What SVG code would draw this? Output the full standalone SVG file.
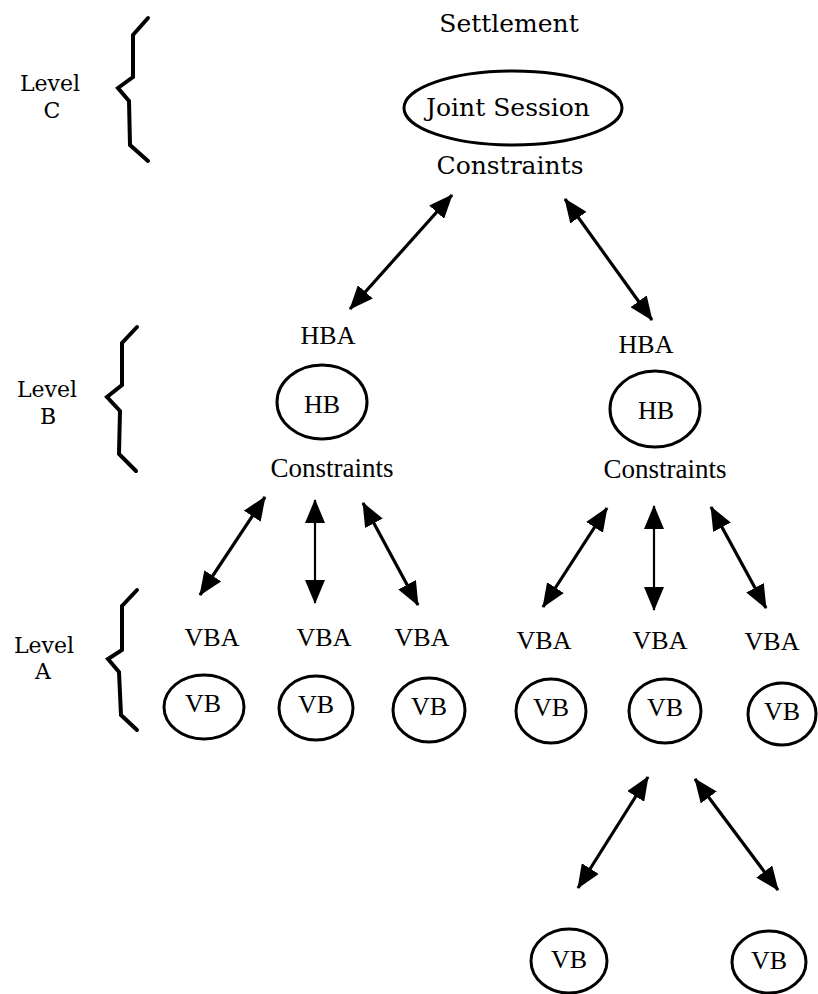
<svg xmlns="http://www.w3.org/2000/svg" width="818" height="994" viewBox="0 0 818 994">
  <style>
    .bg { fill: #ffffff; }
    .shape { fill: none; stroke: #000; stroke-width: 3; }
    .brace { fill: none; stroke: #000; stroke-width: 4; stroke-linejoin: miter; stroke-linecap: round; }
    .lvl { font-family: "DejaVu Serif", serif; font-size: 22px; fill: #000; text-anchor: middle; }
    .top { font-family: "DejaVu Serif", serif; font-size: 25px; fill: #000; text-anchor: middle; }
    .lab { font-family: "Liberation Serif", serif; font-size: 26px; fill: #000; text-anchor: middle; }
    .con { font-family: "Liberation Serif", serif; font-size: 27px; fill: #000; text-anchor: middle; }
    .link { stroke: #000; stroke-width: 3.2; fill: none; marker-start: url(#head); marker-end: url(#head); }
    .thin { stroke-width: 2.2; }
  </style>
  <defs>
    <marker id="head" viewBox="0 0 24 20" refX="23" refY="10" markerWidth="24" markerHeight="20" markerUnits="userSpaceOnUse" orient="auto-start-reverse">
      <path d="M0,0 L24,10 L0,20 z" fill="#000"/>
    </marker>
  </defs>
  <rect class="bg" x="0" y="0" width="818" height="994"/>

  <!-- level labels and braces -->
  <g id="level-c">
    <text class="lvl" x="50" y="91">Level</text>
    <text class="lvl" x="52" y="118">C</text>
    <polyline class="brace" points="148,18 133,35 133,77 118,88 129,101 130,145 148,161"/>
  </g>
  <g id="level-b">
    <text class="lvl" x="47" y="397">Level</text>
    <text class="lvl" x="48" y="424">B</text>
    <polyline class="brace" points="137,327 122,343 122,385 107,397 120,411 119,454 136,471"/>
  </g>
  <g id="level-a">
    <text class="lvl" x="44" y="653">Level</text>
    <text class="lvl" x="43" y="679">A</text>
    <polyline class="brace" points="137,590 122,606 122,650 108,659 119,672 121,715 137,730"/>
  </g>

  <!-- level C: joint session -->
  <g id="joint-session">
    <text class="top" x="509" y="32">Settlement</text>
    <ellipse class="shape" cx="513" cy="108" rx="109" ry="37"/>
    <text class="top" x="508" y="116">Joint Session</text>
    <text class="top" x="510" y="174">Constraints</text>
  </g>

  <!-- level B: house boards -->
  <g id="hb-left">
    <text class="lab" x="328" y="344">HBA</text>
    <ellipse class="shape" cx="322" cy="402" rx="45" ry="37"/>
    <text class="lab" x="322" y="413">HB</text>
    <text class="con" x="332" y="477">Constraints</text>
  </g>
  <g id="hb-right">
    <text class="lab" x="646" y="353">HBA</text>
    <ellipse class="shape" cx="655" cy="409" rx="45" ry="38"/>
    <text class="lab" x="656" y="419">HB</text>
    <text class="con" x="665" y="478">Constraints</text>
  </g>

  <!-- level A: village boards -->
  <g id="vb-1">
    <text class="lab" x="212" y="646">VBA</text>
    <ellipse class="shape" cx="204" cy="707" rx="40" ry="32"/>
    <text class="lab" x="203" y="712">VB</text>
  </g>
  <g id="vb-2">
    <text class="lab" x="324" y="646">VBA</text>
    <ellipse class="shape" cx="316" cy="708" rx="37" ry="32"/>
    <text class="lab" x="316" y="713">VB</text>
  </g>
  <g id="vb-3">
    <text class="lab" x="422" y="646">VBA</text>
    <ellipse class="shape" cx="429" cy="710" rx="36" ry="32"/>
    <text class="lab" x="429" y="715">VB</text>
  </g>
  <g id="vb-4">
    <text class="lab" x="544" y="649">VBA</text>
    <ellipse class="shape" cx="551" cy="711" rx="35" ry="32"/>
    <text class="lab" x="551" y="716">VB</text>
  </g>
  <g id="vb-5">
    <text class="lab" x="660" y="649">VBA</text>
    <ellipse class="shape" cx="665" cy="711" rx="36" ry="32"/>
    <text class="lab" x="665" y="716">VB</text>
  </g>
  <g id="vb-6">
    <text class="lab" x="772" y="650">VBA</text>
    <ellipse class="shape" cx="782" cy="714" rx="34" ry="31"/>
    <text class="lab" x="782" y="720">VB</text>
  </g>
  <g id="vb-7">
    <ellipse class="shape" cx="569" cy="961" rx="38" ry="32"/>
    <text class="lab" x="569" y="968">VB</text>
  </g>
  <g id="vb-8">
    <ellipse class="shape" cx="769" cy="962" rx="37" ry="31"/>
    <text class="lab" x="769" y="969">VB</text>
  </g>

  <!-- two-way links between levels -->
  <g id="connectors">
    <line class="link" x1="452" y1="195" x2="350" y2="309"/>
    <line class="link" x1="565" y1="199" x2="652" y2="320"/>
    <line class="link" x1="265" y1="497" x2="200" y2="595"/>
    <line class="link thin" x1="315" y1="500" x2="315" y2="603"/>
    <line class="link" x1="363" y1="503" x2="418" y2="605"/>
    <line class="link" x1="607" y1="508" x2="543" y2="607"/>
    <line class="link thin" x1="654" y1="506" x2="654" y2="610"/>
    <line class="link" x1="711" y1="507" x2="766" y2="608"/>
    <line class="link" x1="648" y1="777" x2="578" y2="888"/>
    <line class="link" x1="695" y1="779" x2="778" y2="890"/>
  </g>
</svg>
